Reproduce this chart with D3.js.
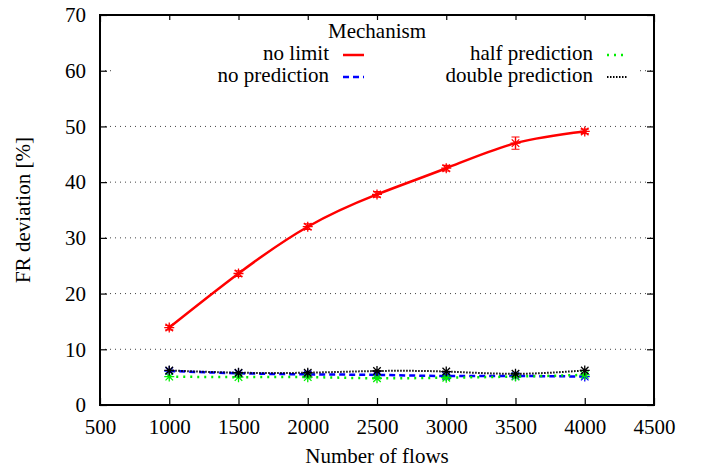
<!DOCTYPE html>
<html>
<head>
<meta charset="utf-8">
<script src="https://cdn.jsdelivr.net/npm/d3@7"></script>
<style>
  body { margin: 0; background: #fff; }
</style>
</head>
<body>
<svg id="chart"></svg>
<script>
var flows = [1000, 1500, 2000, 2500, 3000, 3500, 4000];
var noLimit = [13.9, 23.6, 32.0, 37.8, 42.5, 47.0, 49.1];
var noLimitErr = [0.4, 0.5, 0.5, 0.5, 0.5, 1.1, 0.4];
var noPrediction = [6.1, 5.7, 5.5, 5.4, 5.2, 5.2, 5.1];
var halfPrediction = [5.1, 5.0, 5.0, 4.8, 4.9, 5.1, 5.4];
var doublePrediction = [6.2, 5.8, 5.8, 6.1, 6.0, 5.6, 6.2];
var xTicks = [500, 1000, 1500, 2000, 2500, 3000, 3500, 4000, 4500];
var yTicks = [0, 10, 20, 30, 40, 50, 60, 70];

var series = [
  { name: "no limit", values: noLimit, err: noLimitErr, color: "#ff0000", dash: null, width: 2.5 },
  { name: "no prediction", values: noPrediction, err: null, color: "#0000ff", dash: "6,4", width: 2.5 },
  { name: "half prediction", values: halfPrediction, err: null, color: "#00ee00", dash: "2,5", width: 2.5 },
  { name: "double prediction", values: doublePrediction, err: null, color: "#000000", dash: "1.5,1.5", width: 2 }
];

var serif = "Liberation Serif";
var fontSize = 21;
var screen = { width: 704, height: 470 };
var margins = { top: 15, bottom: 65, left: 100, right: 50 };
var graph = {
  width: screen.width - margins.left - margins.right,
  height: screen.height - margins.top - margins.bottom
};

var svg = d3.select("#chart").attr("width", screen.width).attr("height", screen.height);

var xScale = d3.scaleLinear().domain([500, 4500]).range([0, graph.width]);
var yScale = d3.scaleLinear().domain([0, 70]).range([graph.height, 0]);

var g = svg.append("g")
  .attr("transform", "translate(" + margins.left + "," + margins.top + ")");

//grid//
g.append("g").selectAll("line")
  .data(yTicks.filter(function (t) { return t > 0 && t < 70; }))
  .enter().append("line")
  .attr("x1", 0).attr("x2", graph.width)
  .attr("y1", function (d) { return yScale(d); })
  .attr("y2", function (d) { return yScale(d); })
  .attr("stroke", "#444").attr("stroke-width", 1)
  .attr("stroke-dasharray", "1,4");

//axes with mirrored inward ticks//
var tickLen = 7;
var xBottom = g.append("g").attr("transform", "translate(0," + graph.height + ")")
  .call(d3.axisBottom(xScale).tickValues(xTicks).tickSizeInner(-tickLen).tickSizeOuter(0)
    .tickPadding(14).tickFormat(d3.format("d")));
var xTop = g.append("g")
  .call(d3.axisTop(xScale).tickValues(xTicks).tickSizeInner(-tickLen).tickSizeOuter(0).tickFormat(""));
var yLeft = g.append("g")
  .call(d3.axisLeft(yScale).tickValues(yTicks).tickSizeInner(-tickLen).tickSizeOuter(0).tickPadding(14));
var yRight = g.append("g").attr("transform", "translate(" + graph.width + ",0)")
  .call(d3.axisRight(yScale).tickValues(yTicks).tickSizeInner(-tickLen).tickSizeOuter(0).tickFormat(""));

[xBottom, xTop, yLeft, yRight].forEach(function (a) {
  a.attr("font-family", serif).attr("font-size", fontSize);
  a.select(".domain").remove();
  a.selectAll("line").attr("stroke", "#000").attr("stroke-width", 1.2);
});
xBottom.selectAll("text").attr("dy", "0.71em");

//legend background covers the 60 grid line//
var legend = g.append("g").attr("font-family", serif).attr("font-size", fontSize);
legend.append("rect")
  .attr("x", 13).attr("y", 5)
  .attr("width", 527).attr("height", 88)
  .attr("fill", "#fff");

//lines//
var line = d3.line()
  .x(function (d) { return xScale(d[0]); })
  .y(function (d) { return yScale(d[1]); })
  .curve(d3.curveNatural);

var star = function (sel, x, y, color, r) {
  var p = "M" + (x - r) + "," + y + "H" + (x + r) +
    "M" + x + "," + (y - r) + "V" + (y + r) +
    "M" + (x - r * 0.75) + "," + (y - r * 0.75) + "L" + (x + r * 0.75) + "," + (y + r * 0.75) +
    "M" + (x - r * 0.75) + "," + (y + r * 0.75) + "L" + (x + r * 0.75) + "," + (y - r * 0.75);
  sel.append("path").attr("d", p).attr("stroke", color).attr("stroke-width", 1.3).attr("fill", "none");
};

series.forEach(function (s) {
  var pts = flows.map(function (f, i) { return [f, s.values[i]]; });
  var sg = g.append("g");
  sg.append("path")
    .datum(pts)
    .attr("d", line)
    .attr("fill", "none")
    .attr("stroke", s.color)
    .attr("stroke-width", s.width)
    .attr("stroke-dasharray", s.dash);
  pts.forEach(function (p, i) {
    var cx = xScale(p[0]);
    if (s.err) {
      var y1 = yScale(p[1] - s.err[i]), y2 = yScale(p[1] + s.err[i]);
      sg.append("path")
        .attr("d", "M" + cx + "," + y1 + "V" + y2 +
          "M" + (cx - 4) + "," + y1 + "H" + (cx + 4) +
          "M" + (cx - 4) + "," + y2 + "H" + (cx + 4))
        .attr("stroke", s.color).attr("stroke-width", 1.2).attr("fill", "none");
    }
    star(sg, cx, yScale(p[1]), s.color, 5);
  });
});

//legend text//
legend.append("text")
  .text("Mechanism")
  .attr("x", 277).attr("y", 23)
  .attr("text-anchor", "middle");

var legendPos = [
  { tx: 229, y: 45 },
  { tx: 229, y: 67 },
  { tx: 493, y: 45 },
  { tx: 493, y: 67 }
];
series.forEach(function (s, i) {
  var p = legendPos[i];
  legend.append("text")
    .text(s.name)
    .attr("x", p.tx).attr("y", p.y)
    .attr("text-anchor", "end");
  legend.append("line")
    .attr("x1", p.tx + 14).attr("x2", p.tx + 35)
    .attr("y1", p.y - 5).attr("y2", p.y - 5)
    .attr("stroke", s.color)
    .attr("stroke-width", s.width)
    .attr("stroke-dasharray", s.dash);
});

//frame//
g.append("rect")
  .attr("width", graph.width).attr("height", graph.height)
  .attr("fill", "none").attr("stroke", "#000").attr("stroke-width", 2);

//axis titles//
var titles = svg.append("g").attr("font-family", serif).attr("font-size", fontSize);
titles.append("text")
  .text("Number of flows")
  .attr("text-anchor", "middle")
  .attr("x", margins.left + graph.width / 2)
  .attr("y", screen.height - 7);

titles.append("g")
  .attr("transform", "translate(30," + (margins.top + graph.height / 2) + ")")
  .append("text")
  .text("FR deviation [%]")
  .attr("text-anchor", "middle")
  .attr("transform", "rotate(-90)");
</script>
</body>
</html>
